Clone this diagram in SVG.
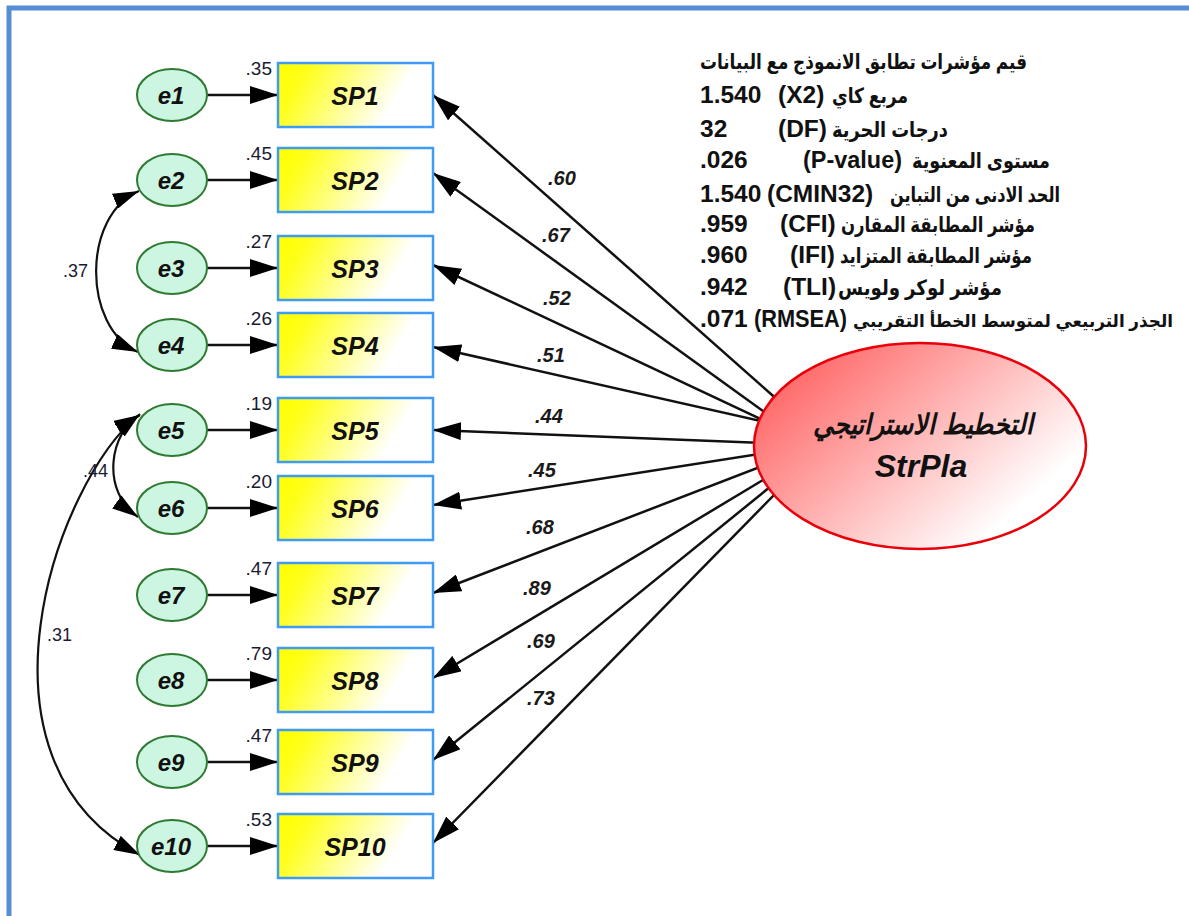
<svg xmlns="http://www.w3.org/2000/svg" width="1189" height="916" viewBox="0 0 1189 916">
<style>
.lat{font-family:"Liberation Sans",Arial,sans-serif}
.ar{font-family:"Liberation Sans","DejaVu Sans","Noto Sans",sans-serif;font-weight:bold;direction:rtl;unicode-bidi:embed}
.box{fill:url(#boxg);stroke:#3F9BF5;stroke-width:2.5}
.err{fill:#CDF6E2;stroke:#2E7A32;stroke-width:2}
.et{font-family:"Liberation Sans",Arial,sans-serif;font-weight:bold;font-style:italic;font-size:24px;text-anchor:middle;fill:#111}
.st{font-family:"Liberation Sans",Arial,sans-serif;font-weight:bold;font-style:italic;font-size:25px;text-anchor:middle;fill:#111}
.var{font-family:"Liberation Sans",Arial,sans-serif;font-size:19px;text-anchor:end;fill:#1a1a33}
.ld{font-family:"Liberation Sans",Arial,sans-serif;font-size:20px;font-style:italic;font-weight:bold;fill:#1a1a1a}
.cv{font-family:"Liberation Sans",Arial,sans-serif;font-size:18px;text-anchor:end;fill:#1a1a33}
.fit{font-family:"Liberation Sans",Arial,sans-serif;font-weight:bold;font-size:24.5px;fill:#111;direction:ltr;unicode-bidi:bidi-override}
.arrow{stroke:#111;stroke-width:2.5;fill:none;marker-end:url(#ah)}
.cov{stroke:#111;stroke-width:2.2;fill:none;marker-end:url(#ch);marker-start:url(#ch)}
</style>
<defs>
<linearGradient id="boxg" x1="0" y1="0" x2="1" y2="0.25">
<stop offset="0" stop-color="#FFFF00"/>
<stop offset="0.2" stop-color="#FFFF1A"/>
<stop offset="0.85" stop-color="#FFFFFF"/>
</linearGradient>
<linearGradient id="latg" x1="0" y1="0.25" x2="0.8" y2="0.8">
<stop offset="0" stop-color="#FF6464"/>
<stop offset="1" stop-color="#FFFFFF"/>
</linearGradient>
<marker id="ah" viewBox="0 0 28 18" markerWidth="28" markerHeight="18" refX="28" refY="9" orient="auto" markerUnits="userSpaceOnUse">
<path d="M0,0 L28,9 L0,18 z" fill="#000"/>
</marker>
<marker id="ch" viewBox="0 0 26 16" markerWidth="26" markerHeight="16" refX="26" refY="8" orient="auto-start-reverse" markerUnits="userSpaceOnUse">
<path d="M0,0 L26,8 L0,16 z" fill="#000"/>
</marker>
</defs>
<rect width="1189" height="916" fill="#fff"/>
<path d="M9,916 V8 H1189" fill="none" stroke="#558ED5" stroke-width="5"/>

<g id="connectors">
<line class="arrow" x1="207" y1="95" x2="278" y2="95"/>
<line class="arrow" x1="207" y1="180" x2="278" y2="180"/>
<line class="arrow" x1="207" y1="268" x2="278" y2="268"/>
<line class="arrow" x1="207" y1="345" x2="278" y2="345"/>
<line class="arrow" x1="207" y1="430" x2="278" y2="430"/>
<line class="arrow" x1="207" y1="508" x2="278" y2="508"/>
<line class="arrow" x1="207" y1="595" x2="278" y2="595"/>
<line class="arrow" x1="207" y1="680" x2="278" y2="680"/>
<line class="arrow" x1="207" y1="762" x2="278" y2="762"/>
<line class="arrow" x1="207" y1="846" x2="278" y2="846"/>

<line class="arrow" x1="780" y1="402" x2="433" y2="95"/>
<line class="arrow" x1="770" y1="416" x2="433" y2="173"/>
<line class="arrow" x1="765" y1="421" x2="433" y2="265"/>
<line class="arrow" x1="765" y1="422" x2="433" y2="347"/>
<line class="arrow" x1="765" y1="443" x2="433" y2="430"/>
<line class="arrow" x1="765" y1="453" x2="433" y2="505"/>
<line class="arrow" x1="765" y1="465" x2="433" y2="593"/>
<line class="arrow" x1="768" y1="477" x2="433" y2="678"/>
<line class="arrow" x1="770" y1="487" x2="433" y2="760"/>
<line class="arrow" x1="775" y1="494" x2="433" y2="843"/>

<path class="cov" d="M139,191 C82,215 82,327 138,352"/>
<path class="cov" d="M140,415 C110,432 100,490 138,517"/>
<path class="cov" d="M140,414 C55,482 -40,760 140,855"/>

<text class="ld" x="548" y="185">.60</text>
<text class="ld" x="542" y="242">.67</text>
<text class="ld" x="543" y="305">.52</text>
<text class="ld" x="537" y="362">.51</text>
<text class="ld" x="535" y="423">.44</text>
<text class="ld" x="528" y="477">.45</text>
<text class="ld" x="526" y="534">.68</text>
<text class="ld" x="523" y="595">.89</text>
<text class="ld" x="527" y="648">.69</text>
<text class="ld" x="527" y="705">.73</text>

<text class="cv" x="88" y="277">.37</text>
<text class="cv" x="108" y="477">.44</text>
<text class="cv" x="72" y="641">.31</text>
</g>

<g id="e1"><ellipse class="err" cx="172" cy="95" rx="35" ry="26"/><text class="et" x="171" y="104">e1</text></g>
<g id="e2"><ellipse class="err" cx="172" cy="180" rx="35" ry="26"/><text class="et" x="171" y="189">e2</text></g>
<g id="e3"><ellipse class="err" cx="172" cy="268" rx="35" ry="26"/><text class="et" x="171" y="277">e3</text></g>
<g id="e4"><ellipse class="err" cx="172" cy="345" rx="35" ry="26"/><text class="et" x="171" y="354">e4</text></g>
<g id="e5"><ellipse class="err" cx="172" cy="430" rx="35" ry="26"/><text class="et" x="171" y="439">e5</text></g>
<g id="e6"><ellipse class="err" cx="172" cy="508" rx="35" ry="26"/><text class="et" x="171" y="517">e6</text></g>
<g id="e7"><ellipse class="err" cx="172" cy="595" rx="35" ry="26"/><text class="et" x="171" y="604">e7</text></g>
<g id="e8"><ellipse class="err" cx="172" cy="680" rx="35" ry="26"/><text class="et" x="171" y="689">e8</text></g>
<g id="e9"><ellipse class="err" cx="172" cy="762" rx="35" ry="26"/><text class="et" x="171" y="771">e9</text></g>
<g id="e10"><ellipse class="err" cx="172" cy="846" rx="35" ry="26"/><text class="et" x="171" y="855">e10</text></g>

<g id="SP1"><rect class="box" x="278" y="63" width="155" height="64"/><text class="st" x="355" y="105">SP1</text><text class="var" x="272" y="75">.35</text></g>
<g id="SP2"><rect class="box" x="278" y="148" width="155" height="64"/><text class="st" x="355" y="190">SP2</text><text class="var" x="272" y="160">.45</text></g>
<g id="SP3"><rect class="box" x="278" y="236" width="155" height="64"/><text class="st" x="355" y="278">SP3</text><text class="var" x="272" y="248">.27</text></g>
<g id="SP4"><rect class="box" x="278" y="313" width="155" height="64"/><text class="st" x="355" y="355">SP4</text><text class="var" x="272" y="325">.26</text></g>
<g id="SP5"><rect class="box" x="278" y="398" width="155" height="64"/><text class="st" x="355" y="440">SP5</text><text class="var" x="272" y="410">.19</text></g>
<g id="SP6"><rect class="box" x="278" y="476" width="155" height="64"/><text class="st" x="355" y="518">SP6</text><text class="var" x="272" y="488">.20</text></g>
<g id="SP7"><rect class="box" x="278" y="563" width="155" height="64"/><text class="st" x="355" y="605">SP7</text><text class="var" x="272" y="575">.47</text></g>
<g id="SP8"><rect class="box" x="278" y="648" width="155" height="64"/><text class="st" x="355" y="690">SP8</text><text class="var" x="272" y="660">.79</text></g>
<g id="SP9"><rect class="box" x="278" y="730" width="155" height="64"/><text class="st" x="355" y="772">SP9</text><text class="var" x="272" y="742">.47</text></g>
<g id="SP10"><rect class="box" x="278" y="814" width="155" height="64"/><text class="st" x="355" y="856">SP10</text><text class="var" x="272" y="826">.53</text></g>

<g id="StrPla">
<ellipse cx="920" cy="446" rx="166" ry="103" fill="url(#latg)" stroke="#E8000B" stroke-width="2.5"/>
<text class="ar" x="923" y="434" font-size="28" font-style="italic" text-anchor="middle" textLength="220" lengthAdjust="spacingAndGlyphs" fill="#111">التخطيط الاستراتيجي</text>
<text class="lat" x="921" y="477" font-size="32" font-weight="bold" font-style="italic" text-anchor="middle" fill="#111">StrPla</text>
</g>

<g id="fit-indices">
<text class="ar" x="863.5" y="69" font-size="21" text-anchor="middle" textLength="327" lengthAdjust="spacingAndGlyphs" fill="#111">قيم مؤشرات تطابق الانموذج مع البيانات</text>

<text class="fit" x="700" y="103">1.540</text>
<text class="fit" x="778" y="103">(X2)</text>
<text class="ar" x="870" y="103" font-size="21" text-anchor="middle" textLength="76" lengthAdjust="spacingAndGlyphs" fill="#111">مربع كاي</text>

<text class="fit" x="700" y="137">32</text>
<text class="fit" x="778" y="137">(DF)</text>
<text class="ar" x="890" y="137" font-size="21" text-anchor="middle" textLength="116" lengthAdjust="spacingAndGlyphs" fill="#111">درجات الحرية</text>

<text class="fit" x="700" y="168">.026</text>
<text class="fit" x="803" y="168" textLength="99" lengthAdjust="spacingAndGlyphs">(P-value)</text>
<text class="ar" x="981" y="168" font-size="21" text-anchor="middle" textLength="138" lengthAdjust="spacingAndGlyphs" fill="#111">مستوى المعنوية</text>

<text class="fit" x="700" y="202">1.540</text>
<text class="fit" x="767" y="202">(CMIN32)</text>
<text class="ar" x="975" y="202" font-size="21" text-anchor="middle" textLength="170" lengthAdjust="spacingAndGlyphs" fill="#111">الحد الادنى من التباين</text>

<text class="fit" x="700" y="232">.959</text>
<text class="fit" x="780" y="232">(CFI)</text>
<text class="ar" x="938" y="232" font-size="21" text-anchor="middle" textLength="194" lengthAdjust="spacingAndGlyphs" fill="#111">مؤشر المطابقة المقارن</text>

<text class="fit" x="700" y="263">.960</text>
<text class="fit" x="790" y="263">(IFI)</text>
<text class="ar" x="936" y="263" font-size="21" text-anchor="middle" textLength="192" lengthAdjust="spacingAndGlyphs" fill="#111">مؤشر المطابقة المتزايد</text>

<text class="fit" x="700" y="295">.942</text>
<text class="fit" x="783" y="295">(TLI)</text>
<text class="ar" x="920" y="295" font-size="21" text-anchor="middle" textLength="164" lengthAdjust="spacingAndGlyphs" fill="#111">مؤشر لوكر ولويس</text>

<text class="fit" x="700" y="327">.071</text>
<text class="fit" x="754" y="327" textLength="93" lengthAdjust="spacingAndGlyphs">(RMSEA)</text>
<text class="ar" x="1013" y="327" font-size="17.5" text-anchor="middle" textLength="320" lengthAdjust="spacingAndGlyphs" fill="#111">الجذر التربيعي لمتوسط الخطأ التقريبي</text>
</g>
</svg>
